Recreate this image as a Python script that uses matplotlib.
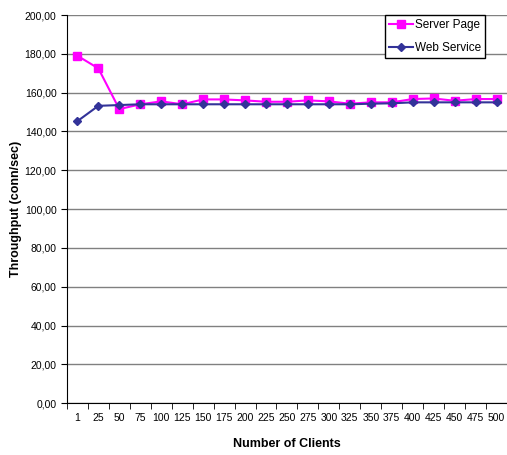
import numpy as np
import matplotlib.pyplot as plt
from matplotlib.ticker import FuncFormatter

plt.rcParams['font.family'] = ['Liberation Sans', 'DejaVu Sans']

clients = ['1', '25', '50', '75', '100', '125', '150', '175', '200', '225', '250',
           '275', '300', '325', '350', '375', '400', '425', '450', '475', '500']
server_page = [179.0, 172.5, 151.5, 154.0, 155.5, 154.0, 156.5, 156.5, 156.0, 155.3, 155.3,
               156.0, 155.5, 154.3, 155.0, 155.0, 156.7, 157.0, 155.8, 156.7, 156.7]
web_service = [145.3, 153.2, 153.6, 154.0, 154.0, 154.0, 154.0, 154.0, 154.0, 154.0, 154.0,
               154.0, 154.0, 154.0, 154.3, 154.5, 155.0, 155.0, 155.0, 155.0, 155.0]

fig = plt.figure(figsize=(5.07, 4.55), dpi=100)
ax = fig.add_axes([0.132, 0.114, 0.868, 0.853])

x = np.arange(len(clients))
ax.plot(x, server_page, color='#FF00FF', marker='s', markersize=6, linewidth=1.5,
        label='Server Page', zorder=3)
ax.plot(x, web_service, color='#333399', marker='D', markersize=4.5, linewidth=1.5,
        label='Web Service', zorder=4)

ax.set_xlim(-0.5, len(clients) - 0.5)
ax.set_ylim(0, 200)
ax.set_yticks(np.arange(0, 201, 20))
ax.yaxis.set_major_formatter(FuncFormatter(lambda v, p: f'{v:.2f}'.replace('.', ',')))
ax.yaxis.grid(True, color='#808080', linewidth=1)
ax.set_axisbelow(True)

# category labels centred, tick marks between categories
ax.set_xticks(x)
ax.set_xticklabels(clients)
ax.set_xticks(np.arange(-0.5, len(clients)), minor=True)
ax.tick_params(axis='x', which='major', length=0, labelsize=7.5, pad=7)
ax.tick_params(axis='x', which='minor', length=4, direction='out')
ax.tick_params(axis='y', labelsize=7.5, length=4, direction='out')

for s in ['top', 'right']:
    ax.spines[s].set_visible(False)

ax.set_xlabel('Number of Clients', fontsize=9, fontweight='bold', labelpad=11)
ax.set_ylabel('Throughput (conn/sec)', fontsize=9, fontweight='bold', labelpad=2)

leg = ax.legend(loc='upper right', bbox_to_anchor=(0.951, 1.0), fontsize=8.5,
                frameon=True, fancybox=False, edgecolor='black', framealpha=1,
                handlelength=2.0, borderpad=0.35, labelspacing=0.95, handletextpad=0.2,
                borderaxespad=0)
leg.get_frame().set_linewidth(1)

fig.savefig('out.png', dpi=100)
